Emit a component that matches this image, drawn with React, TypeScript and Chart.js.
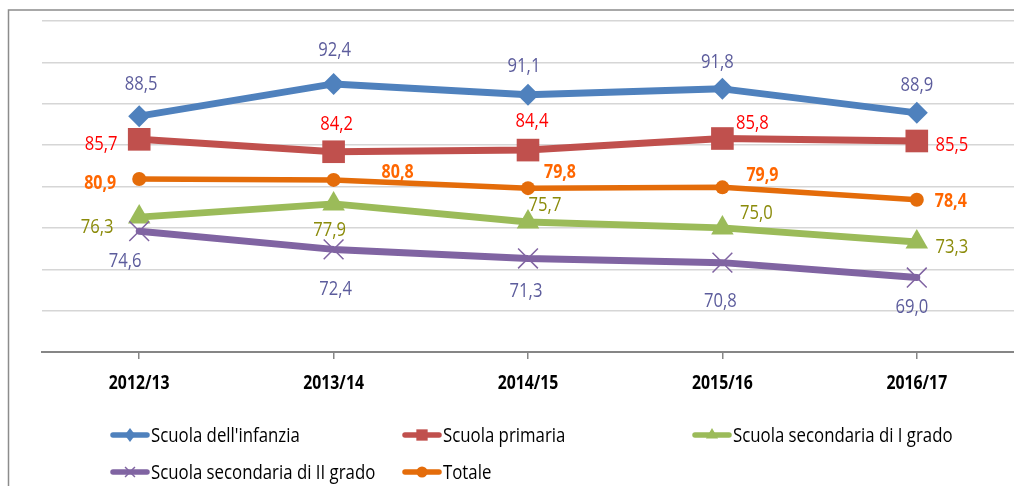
import React, { useEffect, useRef } from "react";
import { Chart, registerables } from "chart.js";

Chart.register(...registerables);

const categories = ["2012/13", "2013/14", "2014/15", "2015/16", "2016/17"];
const infanzia = [88.5, 92.4, 91.1, 91.8, 88.9];
const primaria = [85.7, 84.2, 84.4, 85.8, 85.5];
const secondariaI = [76.3, 77.9, 75.7, 75.0, 73.3];
const secondariaII = [74.6, 72.4, 71.3, 70.8, 69.0];
const totale = [80.9, 80.8, 79.8, 79.9, 78.4];

const seriesNames = [
  "Scuola dell'infanzia",
  "Scuola primaria",
  "Scuola secondaria di I grado",
  "Scuola secondaria di II grado",
  "Totale",
];

// label offsets relative to each point (dx, dy)
const offInfanzia = [[2, -32], [1, -34], [-4, -28], [-5, -27], [0, -28]];
const offPrimaria = [[-38, 5], [3, -27], [4, -29], [30, -15], [35, 4]];
const offSecI = [[-42, 10], [-4, 26], [17, -17], [34, -15], [35, 5]];
const offSecII = [[-14, 30], [2, 40], [-2, 33], [-2, 39], [-5, 30]];
const offTotale = [[-39, 4], [64, -8], [32, -16], [40, -12], [34, 2]];

const FONT = "'Open Sans', 'Noto Sans', sans-serif";

const COLORS = ["#4F81BD", "#C0504D", "#9BBB59", "#8064A2", "#E46C0A"];
const LABEL_COLORS = ["#5C5C9C", "#FF0000", "#8B8B0A", "#5C5C9C", "#FF6600"];
const LABEL_BOLD = [false, false, false, false, true];
const STYLES = ["rectRot", "rect", "triangle", "crossRot", "circle"];
const RADII = [11, 16, 13, 14, 7];
const LEGEND_RADII = [7, 8, 7, 7, 5.5];
const WIDTHS = [7, 7, 7, 7, 5.5];
const OFFSETS = [offInfanzia, offPrimaria, offSecI, offSecII, offTotale];
const VALUES = [infanzia, primaria, secondariaI, secondariaII, totale];

const fmt = (v: number) => v.toFixed(1).replace(".", ",");

function narrowText(
  ctx: CanvasRenderingContext2D,
  text: string,
  x: number,
  y: number,
  sx: number,
  align: CanvasTextAlign
) {
  ctx.save();
  ctx.translate(x, y);
  ctx.scale(sx, 1);
  ctx.textAlign = align;
  ctx.textBaseline = "middle";
  ctx.fillText(text, 0, 0);
  ctx.restore();
}

const framePlugin = {
  id: "frame",
  beforeDraw(chart: any) {
    const ctx = chart.ctx;
    ctx.save();
    ctx.strokeStyle = "#8C8C8C";
    ctx.lineWidth = 1.5;
    ctx.beginPath();
    ctx.moveTo(8.5, chart.height);
    ctx.lineTo(8.5, 10);
    ctx.lineTo(chart.width, 10);
    ctx.stroke();
    ctx.restore();
  },
};

const labelPlugin = {
  id: "valueLabels",
  afterDatasetsDraw(chart: any) {
    const ctx = chart.ctx;
    chart.data.datasets.forEach((ds: any, i: number) => {
      const meta = chart.getDatasetMeta(i);
      ctx.fillStyle = LABEL_COLORS[i];
      ctx.font = `${LABEL_BOLD[i] ? "bold " : ""}20px ${FONT}`;
      meta.data.forEach((pt: any, j: number) => {
        const [dx, dy] = OFFSETS[i][j];
        narrowText(ctx, fmt(ds.data[j]), pt.x + dx, pt.y + dy, LABEL_BOLD[i] ? 0.8 : 0.83, "center");
      });
    });
  },
};

const xLabelPlugin = {
  id: "xLabels",
  afterDraw(chart: any) {
    const ctx = chart.ctx;
    const xs = chart.scales.x;
    ctx.fillStyle = "#000000";
    ctx.font = `bold 20px ${FONT}`;
    (chart.data.labels as string[]).forEach((lab, i) => {
      narrowText(ctx, lab, xs.getPixelForValue(i), xs.top + 31, 0.79, "center");
    });
  },
};

function drawMarker(ctx: CanvasRenderingContext2D, style: string, r: number, x: number, y: number) {
  ctx.beginPath();
  if (style === "rectRot") {
    ctx.moveTo(x, y - r);
    ctx.lineTo(x + r * 0.75, y);
    ctx.lineTo(x, y + r);
    ctx.lineTo(x - r * 0.75, y);
    ctx.closePath();
    ctx.fill();
  } else if (style === "rect") {
    const s = r * Math.SQRT1_2;
    ctx.rect(x - s, y - s, 2 * s, 2 * s);
    ctx.fill();
  } else if (style === "triangle") {
    ctx.moveTo(x, y - r);
    ctx.lineTo(x + r * 0.866, y + r * 0.5);
    ctx.lineTo(x - r * 0.866, y + r * 0.5);
    ctx.closePath();
    ctx.fill();
  } else if (style === "crossRot") {
    const s = r * Math.SQRT1_2;
    ctx.moveTo(x - s, y - s);
    ctx.lineTo(x + s, y + s);
    ctx.moveTo(x - s, y + s);
    ctx.lineTo(x + s, y - s);
    ctx.stroke();
  } else {
    ctx.arc(x, y, r, 0, Math.PI * 2);
    ctx.fill();
  }
}

const legendCols = [110, 402, 692];
const legendRows = [435, 472];

const legendPlugin = {
  id: "customLegend",
  afterDraw(chart: any) {
    const ctx = chart.ctx;
    ctx.save();
    seriesNames.forEach((name, i) => {
      const x = legendCols[i % 3];
      const y = legendRows[Math.floor(i / 3)];
      ctx.strokeStyle = COLORS[i];
      ctx.lineWidth = 5.5;
      ctx.lineCap = "round";
      ctx.beginPath();
      ctx.moveTo(x + 3, y);
      ctx.lineTo(x + 37, y);
      ctx.stroke();
      ctx.fillStyle = COLORS[i];
      ctx.lineWidth = 1.5;
      ctx.lineCap = "butt";
      drawMarker(ctx, STYLES[i], LEGEND_RADII[i], x + 20, y);
      ctx.fillStyle = "#000000";
      ctx.font = `20px ${FONT}`;
      narrowText(ctx, name, x + 41, y + 1, 0.84, "left");
    });
    ctx.restore();
  },
};

export default function App() {
  const ref = useRef<HTMLCanvasElement | null>(null);
  useEffect(() => {
    if (!ref.current) return;
    document.body.style.margin = "0";
    const chart = new Chart(ref.current, {
      type: "line",
      data: {
        labels: categories,
        datasets: VALUES.map((vals, i) => ({
          label: seriesNames[i],
          data: vals,
          borderColor: COLORS[i],
          backgroundColor: COLORS[i],
          borderWidth: WIDTHS[i],
          pointStyle: STYLES[i] as any,
          pointRadius: RADII[i],
          pointBackgroundColor: COLORS[i],
          pointBorderColor: COLORS[i],
          pointBorderWidth: STYLES[i] === "crossRot" ? 1.5 : 0,
          borderJoinStyle: "round" as const,
          borderCapStyle: "round" as const,
          tension: 0,
          fill: false,
          order: 5 - i,
        })),
      },
      options: {
        responsive: false,
        animation: false,
        layout: { padding: { top: 21, left: 42, right: 10, bottom: 0 } },
        plugins: {
          legend: { display: false },
          tooltip: { enabled: false },
        },
        scales: {
          x: {
            offset: true,
            grid: {
              drawOnChartArea: false,
              drawTicks: true,
              tickLength: 7,
              color: "#868686",
              lineWidth: 1.5,
            },
            border: { display: true, color: "#868686", width: 2 },
            ticks: { display: false },
            afterFit: (s: any) => {
              s.height = 134;
            },
          },
          y: {
            min: 60,
            max: 100,
            ticks: { display: false, stepSize: 5 },
            grid: { color: "#D6D6D6", lineWidth: 1.5, drawTicks: false },
            border: { display: false },
            afterFit: (s: any) => {
              s.width = 0;
            },
          },
        },
      },
      plugins: [framePlugin, labelPlugin, xLabelPlugin, legendPlugin],
    });
    return () => chart.destroy();
  }, []);
  return (
    <div style={{ position: "fixed", left: 0, top: 0, width: 1014, height: 486, overflow: "hidden", background: "#fff" }}>
      <canvas ref={ref} width={1030} height={486} style={{ display: "block", width: 1030, height: 486 }} />
    </div>
  );
}
